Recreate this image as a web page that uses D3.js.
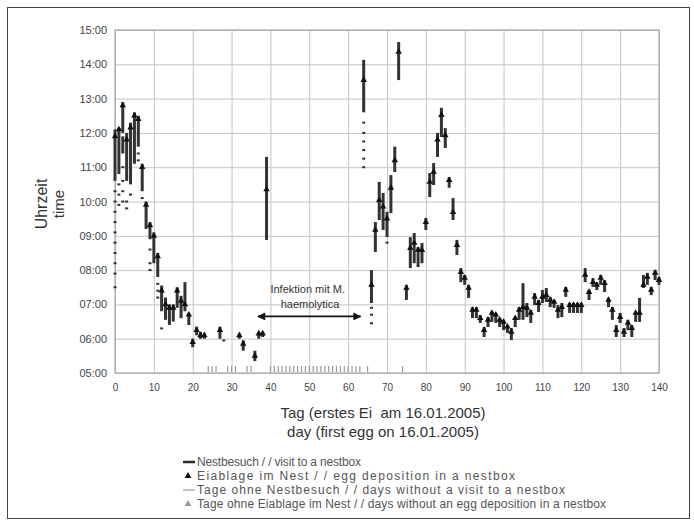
<!DOCTYPE html>
<html>
<head>
<meta charset="utf-8">
<script src="https://cdn.jsdelivr.net/npm/d3@7"></script>
<style>
  body { margin: 0; background: #fff; }
  svg { font-family: "Liberation Sans", Arial, sans-serif; }
  text { white-space: pre; }
</style>
</head>
<body>
<svg></svg>
<script>
const width = 694;
const height = 524;

// nest visits: [day, from (h), to (h)]
const visits = [
  [0, 10.6, 12.1], [1, 10.8, 12.15], [2, 12.0, 12.9], [2, 11.4, 11.9], [3, 10.6, 12.0],
  [4, 10.5, 12.3], [5, 11.1, 12.6], [6, 11.6, 12.5], [7, 10.3, 11.1], [8, 9.2, 10.0],
  [9, 8.9, 9.4], [10, 8.2, 9.1], [11, 7.8, 8.5], [12, 6.8, 7.55], [13, 6.55, 7.2],
  [14, 6.4, 7.0], [15, 6.5, 7.0], [16, 6.9, 7.5], [17, 6.6, 7.25], [18, 6.8, 7.65],
  [19, 6.4, 6.75], [20, 5.75, 6.0], [21, 6.1, 6.35], [22, 6.0, 6.2], [23, 6.0, 6.15],
  [27, 6.0, 6.35], [32, 6.0, 6.15], [33, 5.65, 5.95], [36, 5.35, 5.65], [37, 6.0, 6.2],
  [38, 6.05, 6.2], [39, 8.88, 11.3],
  [64, 12.6, 14.13], [66, 7.04, 8.0], [67, 8.53, 9.4], [68, 9.46, 10.57], [69, 9.17, 10.25],
  [70, 8.96, 9.7], [71, 9.66, 10.77], [72, 10.86, 11.6], [73, 13.54, 14.65], [75, 7.13, 7.57],
  [76, 8.06, 8.96], [77, 8.2, 9.08], [78, 8.09, 8.67], [79, 8.2, 8.79], [80, 9.17, 9.52],
  [81, 10.13, 10.83], [82, 10.48, 11.12], [83, 11.3, 12.0], [84, 11.88, 12.73], [85, 11.56, 12.14],
  [86, 10.4, 10.71], [87, 9.46, 10.1], [88, 8.44, 8.88], [89, 7.65, 8.06], [90, 7.57, 7.86],
  [91, 7.19, 7.57], [92, 6.6, 6.92], [93, 6.6, 6.92], [94, 6.46, 6.69], [95, 6.05, 6.34],
  [96, 6.34, 6.63], [97, 6.49, 6.78], [98, 6.46, 6.75], [99, 6.34, 6.6], [100, 6.25, 6.55],
  [101, 6.17, 6.4], [102, 5.96, 6.31], [103, 6.34, 6.63], [104, 6.55, 6.92], [105, 6.55, 7.62],
  [106, 6.63, 7.04], [107, 6.46, 6.84], [108, 6.98, 7.33], [109, 6.78, 7.13], [110, 7.04, 7.42],
  [111, 7.07, 7.48], [112, 6.92, 7.22], [113, 6.9, 7.13], [114, 6.6, 6.98], [115, 6.63, 7.04],
  [116, 7.22, 7.51], [117, 6.75, 7.04], [118, 6.75, 7.04], [119, 6.75, 7.04], [120, 6.75, 7.04],
  [121, 7.65, 8.06], [122, 7.13, 7.42], [123, 7.51, 7.77], [124, 7.42, 7.65], [125, 7.57, 7.86],
  [126, 7.36, 7.71], [127, 6.92, 7.19], [128, 6.55, 6.92], [129, 6.05, 6.4], [130, 6.46, 6.75],
  [131, 6.05, 6.31], [132, 6.25, 6.55], [133, 6.05, 6.4], [134, 6.49, 6.78], [135, 6.49, 7.19],
  [136, 7.48, 7.86], [137, 7.57, 7.92], [138, 7.27, 7.51], [139, 7.71, 8.0], [140, 7.57, 7.8]
];

// single short visits: [day, time (h)]
const visitDots = [
  [0, 10.3], [0, 10.0], [0, 9.7], [0, 9.4], [0, 9.1], [0, 8.8], [0, 8.5], [0, 8.2], [0, 7.9], [0, 7.5],
  [1, 10.5], [1, 10.2], [1, 9.9], [2, 11.0], [2, 10.6], [2, 10.3], [2, 10.0], [3, 10.0], [3, 9.8],
  [4, 10.2], [6, 11.4], [6, 11.2], [7, 10.1], [9, 8.6], [9, 8.2], [9, 8.0], [11, 7.6], [11, 7.4],
  [11, 7.2], [12, 6.3], [28, 5.95],
  [64, 12.3], [64, 12.0], [64, 11.75], [64, 11.5], [64, 11.25], [64, 11.0],
  [66, 6.9], [66, 6.7], [66, 6.45], [70, 8.8]
];

// egg deposition: [day, time (h)]
const eggs = [
  [0, 11.9], [1, 12.1], [2, 12.8], [3, 11.8], [4, 12.15], [5, 12.5], [6, 12.4], [7, 11.0],
  [8, 9.9], [9, 9.3], [10, 9.0], [11, 8.4], [12, 7.4], [13, 7.0], [14, 6.9], [15, 6.9],
  [16, 7.4], [17, 7.1], [18, 7.0], [19, 6.7], [20, 5.9], [21, 6.25], [22, 6.1], [23, 6.1],
  [27, 6.25], [32, 6.1], [33, 5.85], [36, 5.5], [37, 6.15], [38, 6.15], [39, 10.35],
  [64, 13.54], [66, 7.57], [67, 9.17], [68, 10.04], [69, 9.85], [70, 9.5], [71, 10.4],
  [72, 11.2], [73, 14.36], [75, 7.48], [76, 8.64], [77, 8.79], [78, 8.59], [79, 8.58],
  [80, 9.4], [81, 10.57], [82, 10.86], [83, 11.8], [84, 12.52], [85, 11.93], [86, 10.62],
  [87, 9.69], [88, 8.73], [89, 7.94], [90, 7.77], [91, 7.48], [92, 6.84], [93, 6.84],
  [94, 6.6], [95, 6.25], [96, 6.55], [97, 6.75], [98, 6.7], [99, 6.55], [100, 6.49],
  [101, 6.35], [102, 6.2], [103, 6.6], [104, 6.84], [105, 6.92], [106, 6.9], [107, 6.75],
  [108, 7.22], [109, 7.04], [110, 7.22], [111, 7.27], [112, 7.13], [113, 7.07], [114, 6.84],
  [115, 6.92], [116, 7.42], [117, 6.98], [118, 6.98], [119, 6.98], [120, 6.98], [121, 7.86],
  [122, 7.36], [123, 7.65], [124, 7.57], [125, 7.77], [126, 7.62], [127, 7.13], [128, 6.84],
  [129, 6.25], [130, 6.63], [131, 6.2], [132, 6.46], [133, 6.31], [134, 6.75], [135, 6.75],
  [136, 7.57], [137, 7.8], [138, 7.42], [139, 7.92], [140, 7.71]
];

// days without a visit to a nestbox
const noVisitDays = [24, 25, 26, 29, 30, 31, 34, 35,
  40, 41, 42, 43, 44, 45, 46, 47, 48, 49, 50, 51, 52, 53, 54, 55, 56, 57, 58, 59, 60, 61, 62, 63,
  65, 74];

const xTicks = d3.range(0, 141, 10);
const yTicks = d3.range(5, 16, 1);

const legendLabels = [
  'Nestbesuch / / visit to a nestbox',
  'Eiablage im Nest / / egg deposition in a nestbox',
  'Tage ohne Nestbesuch / / days without a visit to a nestbox',
  'Tage ohne Eiablage im Nest / / days without an egg deposition in a nestbox'
];
const legendTypes = ['visit', 'egg', 'novisit', 'noegg'];
// text widths as printed in the original legend
const legendWidths = [164, 318, 368, 409];

const margin = { left: 115, right: 35, top: 30, bottom: 151 };
const innerW = width - margin.left - margin.right;
const innerH = height - margin.top - margin.bottom;

const svg = d3.select('svg')
  .attr('width', width)
  .attr('height', height);

// outer frame
svg.append('rect')
  .attr('x', 7.5).attr('y', 7.5)
  .attr('width', 682).attr('height', 511)
  .attr('fill', 'none')
  .attr('stroke', '#444');

const x = d3.scaleLinear().domain([0, 140]).range([margin.left, margin.left + innerW]);
const y = d3.scaleLinear().domain([5, 15]).range([margin.top + innerH, margin.top]);

// grid
svg.append('g')
  .attr('transform', `translate(0,${margin.top + innerH})`)
  .call(d3.axisBottom(x).tickValues(xTicks).tickSize(-innerH).tickFormat(''))
  .call(g => g.select('.domain').remove())
  .call(g => g.selectAll('line').attr('stroke', '#c4c4c4'));

svg.append('g')
  .attr('transform', `translate(${margin.left},0)`)
  .call(d3.axisLeft(y).tickValues(yTicks).tickSize(-innerW).tickFormat(''))
  .call(g => g.select('.domain').remove())
  .call(g => g.selectAll('line').attr('stroke', '#c4c4c4'));

svg.append('rect')
  .attr('x', margin.left).attr('y', margin.top)
  .attr('width', innerW).attr('height', innerH)
  .attr('fill', 'none')
  .attr('stroke', '#999');

// tick labels
svg.append('g')
  .attr('transform', `translate(0,${margin.top + innerH})`)
  .call(d3.axisBottom(x).tickValues(xTicks).tickSize(0).tickPadding(11))
  .call(g => g.select('.domain').remove())
  .call(g => g.selectAll('text').attr('font-size', 10).attr('fill', '#444').attr('font-family', null));

svg.append('g')
  .attr('transform', `translate(${margin.left},0)`)
  .call(d3.axisLeft(y).tickValues(yTicks).tickSize(0).tickPadding(8)
    .tickFormat(d => d3.format('02d')(d) + ':00'))
  .call(g => g.select('.domain').remove())
  .call(g => g.selectAll('text').attr('font-size', 11).attr('fill', '#444').attr('font-family', null));

// axis titles
svg.append('text')
  .attr('x', 383).attr('y', 418)
  .attr('text-anchor', 'middle')
  .attr('font-size', 15).attr('fill', '#333')
  .text('Tag (erstes Ei  am 16.01.2005)');
svg.append('text')
  .attr('x', 383).attr('y', 437)
  .attr('text-anchor', 'middle')
  .attr('font-size', 15).attr('fill', '#333')
  .text('day (first egg on 16.01.2005)');

svg.append('text')
  .attr('transform', 'translate(47,204) rotate(-90)')
  .attr('text-anchor', 'middle')
  .attr('font-size', 16).attr('fill', '#333')
  .text('Uhrzeit');
svg.append('text')
  .attr('transform', 'translate(64,204) rotate(-90)')
  .attr('text-anchor', 'middle')
  .attr('font-size', 15).attr('fill', '#333')
  .text('time');

// days without visit
svg.append('g').selectAll('line')
  .data(noVisitDays)
  .enter().append('line')
    .attr('x1', d => x(d)).attr('x2', d => x(d))
    .attr('y1', y(5) - 1).attr('y2', y(5) - 7)
    .attr('stroke', '#999')
    .attr('stroke-width', 1.2);

// visits
svg.append('g').selectAll('rect')
  .data(visits)
  .enter().append('rect')
    .attr('x', d => x(d[0]) - 1.5)
    .attr('y', d => y(d[2]))
    .attr('width', 3)
    .attr('height', d => y(d[1]) - y(d[2]))
    .attr('fill', '#333');

svg.append('g').selectAll('rect')
  .data(visitDots)
  .enter().append('rect')
    .attr('x', d => x(d[0]) - 1.5)
    .attr('y', d => y(d[1]) - 1)
    .attr('width', 3)
    .attr('height', 2)
    .attr('fill', '#333');

// eggs
const tri = d3.symbol().type(d3.symbolTriangle).size(18);
svg.append('g').selectAll('path')
  .data(eggs)
  .enter().append('path')
    .attr('d', tri)
    .attr('transform', d => `translate(${x(d[0])},${y(d[1])})`)
    .attr('fill', '#111');

// infection annotation
const defs = svg.append('defs');
defs.append('marker')
  .attr('id', 'ah')
  .attr('viewBox', '0 0 10 10')
  .attr('refX', 9).attr('refY', 5)
  .attr('markerWidth', 9).attr('markerHeight', 8)
  .attr('markerUnits', 'userSpaceOnUse')
  .attr('orient', 'auto-start-reverse')
  .append('path')
    .attr('d', 'M0,0L10,5L0,10Z')
    .attr('fill', '#111');

svg.append('line')
  .attr('x1', x(36.8)).attr('x2', x(63.2))
  .attr('y1', y(6.65)).attr('y2', y(6.65))
  .attr('stroke', '#111')
  .attr('stroke-width', 1.6)
  .attr('marker-start', 'url(#ah)')
  .attr('marker-end', 'url(#ah)');

svg.append('text')
  .attr('x', x(49.6)).attr('y', 293)
  .attr('text-anchor', 'middle')
  .attr('font-size', 11).attr('fill', '#333')
  .text('Infektion mit M.');
svg.append('text')
  .attr('x', x(50.2)).attr('y', 308)
  .attr('text-anchor', 'middle')
  .attr('font-size', 11).attr('fill', '#333')
  .text('haemolytica');

// legend
const legend = svg.append('g').attr('transform', 'translate(183,462)');
const rows = legend.selectAll('g')
  .data(legendLabels.map((label, i) => ({ label, type: legendTypes[i], w: legendWidths[i] })))
  .enter().append('g')
    .attr('transform', (d, i) => `translate(0,${i * 14})`);

rows.filter(d => d.type === 'visit' || d.type === 'novisit')
  .append('line')
    .attr('x1', 0).attr('x2', 12)
    .attr('stroke', d => d.type === 'visit' ? '#2b2b2b' : '#999')
    .attr('stroke-width', d => d.type === 'visit' ? 2.5 : 1.2);

rows.filter(d => d.type === 'egg' || d.type === 'noegg')
  .append('path')
    .attr('d', d3.symbol().type(d3.symbolTriangle).size(20))
    .attr('transform', 'translate(5,0)')
    .attr('fill', d => d.type === 'egg' ? '#111' : '#999');

rows.append('text')
  .attr('x', 14).attr('y', 4)
  .attr('font-size', 12).attr('fill', '#555')
  .attr('textLength', d => d.w)
  .attr('lengthAdjust', 'spacing')
  .text(d => d.label);
</script>
</body>
</html>
